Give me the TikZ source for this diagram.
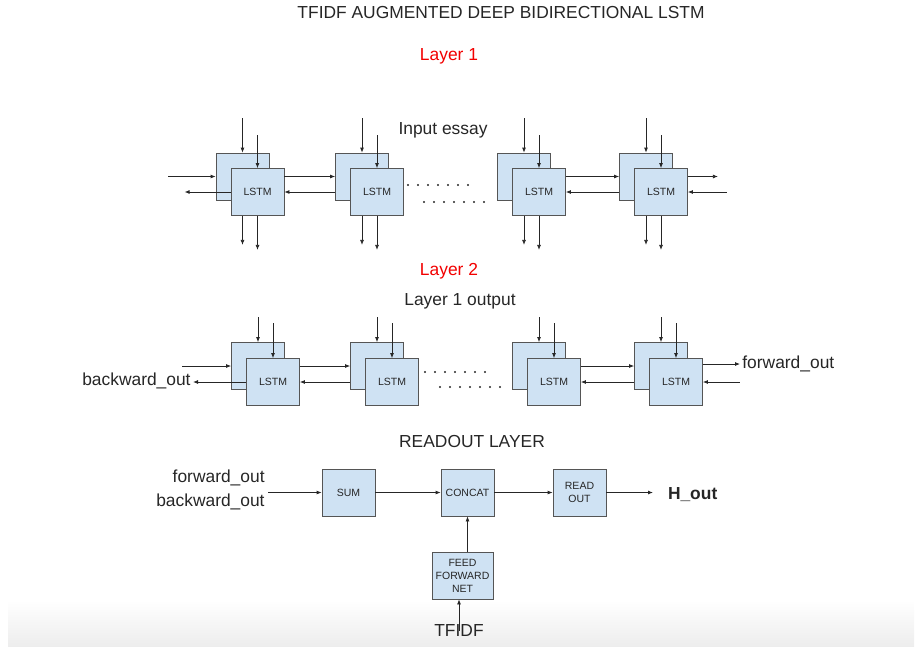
\documentclass[tikz,border=0pt]{standalone}
\usepackage{fontspec}
\setmainfont{Liberation Sans}
\usetikzlibrary{arrows.meta}
\definecolor{boxfill}{HTML}{CFE2F3}
\definecolor{boxline}{HTML}{555555}
\definecolor{layerred}{HTML}{F20000}

\begin{document}
\begin{tikzpicture}[x=1pt, y=-1pt, line width=0.8pt, color=black!85, >={Latex[length=5pt,width=4pt]},
    box/.style = {draw=boxline, fill=boxfill, minimum width=53pt, minimum height=47pt, inner sep=0pt, align=center, font=\fontsize{10.5}{13}\selectfont},
    big/.style = {font=\fontsize{17.4}{24}\selectfont},
    dotrow/.style = {line width=2.2pt, line cap=round, dash pattern=on 0pt off 10pt}]
    \useasboundingbox (0,0) rectangle (922,646);
    \shade[top color=white, bottom color=black!7] (8,600) rectangle (914,646);

    % headings
    \node[big] (title) at (501,13) {TFIDF AUGMENTED DEEP BIDIRECTIONAL LSTM};
    \node[big, layerred] (layer1) at (449,56) {Layer 1};
    \node[big] (essay) at (443,130) {Input essay};
    \node[big, layerred] (layer2) at (449,271) {Layer 2};
    \node[big] (l1out) at (460,301) {Layer 1 output};
    \node[big] (rolayer) at (472,442) {READOUT LAYER};

    % layer 1
    \node[box] (b1) at (242.5,176.5) {};
    \node[box] (f1) at (257.5,192) {LSTM};
    \node[box] (b2) at (362,176.5) {};
    \node[box] (f2) at (377,192) {LSTM};
    \node[box] (b3) at (524,176.5) {};
    \node[box] (f3) at (539,192) {LSTM};
    \node[box] (b4) at (646,176.5) {};
    \node[box] (f4) at (661,192) {LSTM};
    \coordinate (d1s) at (408,185);
    \coordinate (d1e) at (470,185);
    \coordinate (d2s) at (424,202);
    \coordinate (d2e) at (486,202);
    \draw[dotrow] (d1s) -- (d1e);
    \draw[dotrow] (d2s) -- (d2e);

    \draw[<-] (b1.north) -- ++(0,-35);
    \draw[<-] (f1.north) -- ++(0,-33);
    \draw[<-] (b2.north) -- ++(0,-35);
    \draw[<-] (f2.north) -- ++(0,-33);
    \draw[<-] (b3.north) -- ++(0,-35);
    \draw[<-] (f3.north) -- ++(0,-33);
    \draw[<-] (b4.north) -- ++(0,-35);
    \draw[<-] (f4.north) -- ++(0,-33);
    \draw[->] (b1 |- f1.south) -- ++(0,29);
    \draw[->] (f1.south) -- ++(0,34);
    \draw[->] (b2 |- f2.south) -- ++(0,29);
    \draw[->] (f2.south) -- ++(0,34);
    \draw[->] (b3 |- f3.south) -- ++(0,29);
    \draw[->] (f3.south) -- ++(0,34);
    \draw[->] (b4 |- f4.south) -- ++(0,29);
    \draw[->] (f4.south) -- ++(0,34);

    \draw[<-] (b1.west) -- ++(-48,0);
    \draw[->] (f1.west) -- ++(-46,0);
    \draw[->] (b2.west -| f1.east) -- (b2.west);
    \draw[->] (b2.west |- f1) -- (f1.east);
    \draw[->] (b4.west -| f3.east) -- (b4.west);
    \draw[->] (b4.west |- f3) -- (f3.east);
    \draw[->] (b4 -| f4.east) -- ++(30,0);
    \draw[<-] (f4.east) -- ++(39,0);

    % layer 2
    \node[box] (b5) at (258,366) {};
    \node[box] (f5) at (273,382) {LSTM};
    \node[box] (b6) at (377,366) {};
    \node[box] (f6) at (392,382) {LSTM};
    \node[box] (b7) at (539,366) {};
    \node[box] (f7) at (554,382) {LSTM};
    \node[box] (b8) at (661,366) {};
    \node[box] (f8) at (676,382) {LSTM};
    \coordinate (d3s) at (425,372);
    \coordinate (d3e) at (487,372);
    \coordinate (d4s) at (440,387);
    \coordinate (d4e) at (502,387);
    \draw[dotrow] (d3s) -- (d3e);
    \draw[dotrow] (d4s) -- (d4e);
    \node[big, anchor=east, inner sep=2pt] (bwd) at (193,381) {backward\_out};
    \node[big, anchor=west, inner sep=2pt] (fwd) at (740,364) {forward\_out};

    \draw[<-] (b5.north) -- ++(0,-25);
    \draw[<-] (f5.north) -- ++(0,-35);
    \draw[<-] (b6.north) -- ++(0,-25);
    \draw[<-] (f6.north) -- ++(0,-35);
    \draw[<-] (b7.north) -- ++(0,-25);
    \draw[<-] (f7.north) -- ++(0,-35);
    \draw[<-] (b8.north) -- ++(0,-25);
    \draw[<-] (f8.north) -- ++(0,-35);

    \draw[<-] (b5.west) -- ++(-49,0);
    \draw[->] (f5.west) -- (f5.west -| bwd.east);
    \draw[->] (b6.west -| f5.east) -- (b6.west);
    \draw[->] (b6.west |- f5) -- (f5.east);
    \draw[->] (b8.west -| f7.east) -- (b8.west);
    \draw[->] (b8.west |- f7) -- (f7.east);
    \draw[->] (fwd.west -| f8.east) -- (fwd.west);
    \draw[<-] (f8.east) -- ++(37,0);

    % readout
    \node[big, align=right, anchor=east, inner sep=3pt] (inputs) at (268,490) {forward\_out\\backward\_out};
    \node[box] (sum) at (348.5,492.5) {SUM};
    \node[box] (concat) at (467.5,492.5) {CONCAT};
    \node[box] (rd) at (579.5,492.5) {READ\\OUT};
    \node[box, minimum width=61pt] (ffn) at (462.5,575.5) {FEED\\FORWARD\\NET};
    \node[big, anchor=west, inner sep=2pt, outer sep=13pt] (hout) at (653,495) {\bfseries H\_out};
    \node[big] (tfidf) at (459,631) {TFIDF};

    \draw[->] (inputs.east |- sum) -- (sum.west);
    \path[->] (sum) edge (concat);
    \path[->] (concat) edge (rd);
    \draw[->] (rd.east) -- (rd.east -| hout.west);
    \draw[->] (ffn.north -| concat) -- (concat.south);
    \draw[->] (tfidf.center) -- (tfidf.center |- ffn.south);
\end{tikzpicture}
\end{document}
